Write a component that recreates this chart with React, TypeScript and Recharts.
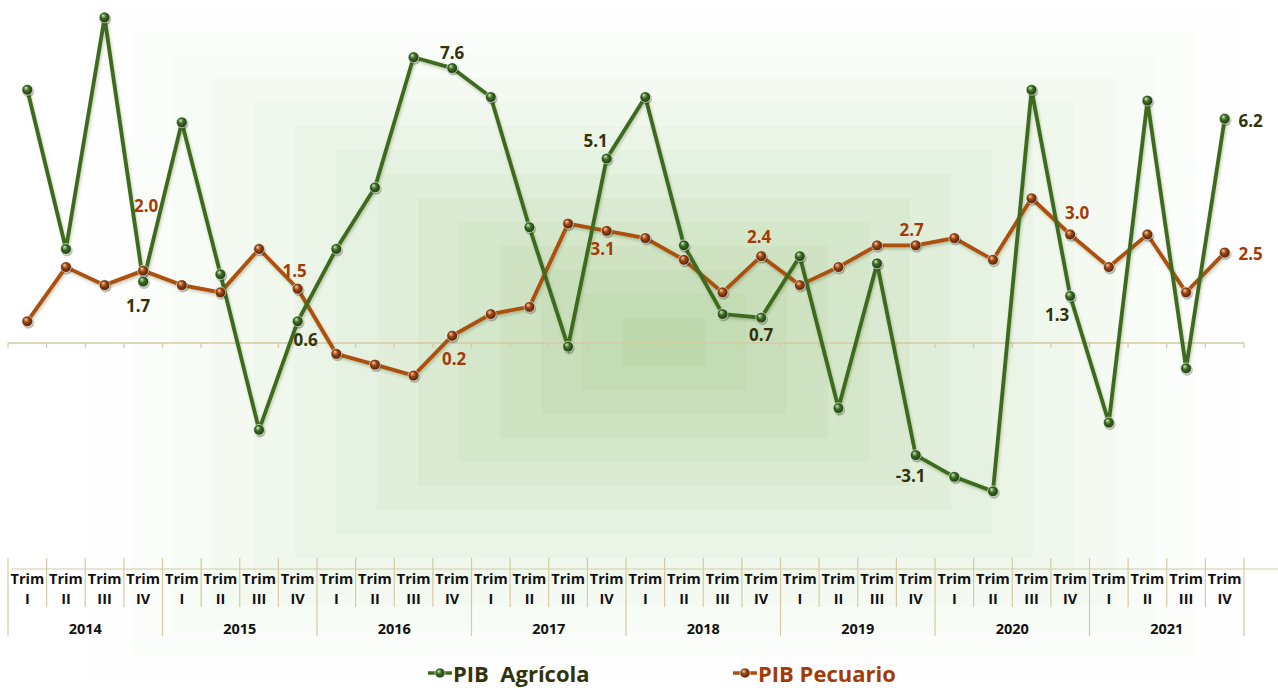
import React from 'react';
import { LineChart, Line, XAxis, YAxis, ReferenceLine, Legend, LabelList } from 'recharts';

const years = ['2014', '2015', '2016', '2017', '2018', '2019', '2020', '2021'];
const quarters = ['I', 'II', 'III', 'IV'];

const agricola = [
  7.0, 2.6, 9.0, 1.7,
  6.1, 1.9, -2.4, 0.6,
  2.6, 4.3, 7.9, 7.6,
  6.8, 3.2, -0.1, 5.1,
  6.8, 2.7, 0.8, 0.7,
  2.4, -1.8, 2.2, -3.1,
  -3.7, -4.1, 7.0, 1.3,
  -2.2, 6.7, -0.7, 6.2,
];

const pecuario = [
  0.6, 2.1, 1.6, 2.0,
  1.6, 1.4, 2.6, 1.5,
  -0.3, -0.6, -0.9, 0.2,
  0.8, 1.0, 3.3, 3.1,
  2.9, 2.3, 1.4, 2.4,
  1.6, 2.1, 2.7, 2.7,
  2.9, 2.3, 4.0, 3.0,
  2.1, 3.0, 1.4, 2.5,
];

// label offsets (dx, dy) from the point, only for labelled points
const agrLabelOffsets: Record<number, [number, number]> = {
  3: [-5, 24], 7: [8, 18], 11: [0, -16], 15: [-11, -18],
  19: [0, 17], 23: [-5, 20], 27: [-13, 19], 31: [26, 2],
};
const pecLabelOffsets: Record<number, [number, number]> = {
  3: [3, -65], 7: [-3, -18], 11: [2, 23], 15: [-4, 18],
  19: [-2, -20], 23: [-4, -16], 27: [7, -22], 31: [26, 1],
};

const data = agricola.map((a, i) => ({
  key: `${years[Math.floor(i / 4)]} ${quarters[i % 4]}`,
  agricola: a,
  pecuario: pecuario[i],
}));

const GREEN = '#3d6b1d';
const ORANGE = '#ad4f0e';
const AGR_TEXT = '#33330a';
const PEC_TEXT = '#a33b08';
const TAN = '#d6caa2';
const FONT = '"Open Sans", "DejaVu Sans", sans-serif';

const GRAD = {
  gG: ['#d4ecc0', '#3a6b22', '#16300b'],
  gO: ['#ffcf9c', '#9a4512', '#3e1604'],
} as Record<string, string[]>;

const makeDot = (grad: string) => (props: any) => {
  const { cx, cy, index } = props;
  if (cx == null || cy == null) return <g key={`d${index}`} />;
  return (
    <g key={`d${grad}${index}`}>
      <circle cx={cx + 1} cy={cy + 1.6} r={5.8} fill="rgba(40,45,20,0.3)" />
      <circle cx={cx} cy={cy} r={5.4} fill={`url(#${grad})`} stroke="rgba(255,255,255,0.7)" strokeWidth={0.9} />
    </g>
  );
};

const makeLabel = (offsets: Record<number, [number, number]>, color: string) => (props: any) => {
  const { x, y, value, index } = props;
  const off = offsets[index];
  if (!off || x == null) return null;
  return (
    <text
      key={`l${index}`}
      x={x + off[0]}
      y={y + off[1]}
      textAnchor="middle"
      dominantBaseline="central"
      fontFamily={FONT}
      fontWeight={700}
      fontSize={17}
      fill={color}
    >
      {Number(value).toFixed(1)}
    </text>
  );
};

const AxisTick = (props: any) => {
  const { x, y, index, width, visibleTicksCount } = props;
  const n = visibleTicksCount || data.length;
  const band = width / n;
  const left = x - band / 2;
  const qi = index % 4;
  const yi = Math.floor(index / 4);
  const isLast = index === n - 1;
  return (
    <g>
      <line x1={left} x2={left} y1={y - 2} y2={y + (qi === 0 ? 76 : 47)} stroke={TAN} strokeWidth={1.2} />
      {isLast && <line x1={left + band} x2={left + band} y1={y - 2} y2={y + 76} stroke={TAN} strokeWidth={1.2} />}
      <line
        x1={index === 0 ? left + 4 : left}
        x2={isLast ? left + band + 40 : left + band}
        y1={y + 9}
        y2={y + 9}
        stroke={TAN}
        strokeWidth={1.2}
      />
      <text x={x} y={y + 24} textAnchor="middle" fontFamily={FONT} fontWeight={700} fontSize={14.5} fill="#111">
        Trim
      </text>
      <text x={x} y={y + 44} textAnchor="middle" fontFamily={FONT} fontWeight={700} fontSize={14.5} fill="#111">
        {quarters[qi]}
      </text>
      {qi === 1 && (
        <text x={left + band} y={y + 74} textAnchor="middle" fontFamily={FONT} fontWeight={700} fontSize={14.5} fill="#111">
          {years[yi]}
        </text>
      )}
    </g>
  );
};

const ZeroLine = (props: any) => {
  const { x1, x2, y1 } = props;
  if (x1 == null) return null;
  const n = data.length;
  const step = (x2 - x1) / n;
  const ticks = [];
  for (let i = 0; i <= n; i++) {
    const tx = x1 + step * i;
    ticks.push(<line key={i} x1={tx} x2={tx} y1={y1} y2={y1 + 5} stroke={TAN} strokeWidth={1.2} />);
  }
  return (
    <g>
      <line x1={x1} x2={x2} y1={y1} y2={y1} stroke={TAN} strokeWidth={1.3} />
      {ticks}
    </g>
  );
};

const LegendIcon = ({ grad, color }: { grad: string; color: string }) => (
  <svg width={26} height={14} style={{ display: 'block' }}>
    <defs>
      <radialGradient id={`${grad}L`} cx="50%" cy="50%" fx="35%" fy="30%" r="60%">
        <stop offset="0%" stopColor={GRAD[grad][0]} />
        <stop offset="40%" stopColor={GRAD[grad][1]} />
        <stop offset="100%" stopColor={GRAD[grad][2]} />
      </radialGradient>
    </defs>
    <line x1={1} x2={25} y1={7} y2={7} stroke={color} strokeWidth={3.5} />
    <circle cx={13} cy={7} r={5} fill={`url(#${grad}L)`} stroke="rgba(255,255,255,0.8)" strokeWidth={0.8} />
  </svg>
);

const LegendContent = () => (
  <div style={{ position: 'relative', height: 50, width: 1278 }}>
    <div style={{ position: 'absolute', left: 427, top: 22, display: 'flex', alignItems: 'center' }}>
      <LegendIcon grad="gG" color={GREEN} />
      <span style={{ fontFamily: FONT, fontWeight: 700, fontSize: 22, color: AGR_TEXT, whiteSpace: 'pre', lineHeight: '26px' }}>
        PIB  Agrícola
      </span>
    </div>
    <div style={{ position: 'absolute', left: 732, top: 22, display: 'flex', alignItems: 'center' }}>
      <LegendIcon grad="gO" color={ORANGE} />
      <span style={{ fontFamily: FONT, fontWeight: 700, fontSize: 22, color: PEC_TEXT, whiteSpace: 'pre', lineHeight: '26px' }}>
        PIB Pecuario
      </span>
    </div>
  </div>
);

const bgLayers = Array.from({ length: 14 }, (_, k) => 14 - k);

export default function App() {
  return (
    <div style={{ position: 'fixed', left: 0, top: 0, width: 1278, height: 688, background: '#ffffff', overflow: 'hidden' }}>
      {bgLayers.map((n) => (
        <div
          key={n}
          style={{
            position: 'absolute',
            left: 664 - 41 * n,
            top: 342 - 24 * n,
            width: 82 * n,
            height: 48 * n,
            background: `rgba(125,180,85,${(0.010 + 0.0052 * (14 - n)).toFixed(4)})`,
          }}
        />
      ))}
      <div style={{ position: 'absolute', left: 0, top: 0 }}>
        <LineChart width={1278} height={688} data={data} margin={{ top: 3, right: 34, bottom: 0, left: 8 }}>
          <defs>
            {Object.keys(GRAD).map((id) => (
              <radialGradient key={id} id={id} cx="50%" cy="50%" fx="35%" fy="30%" r="60%">
                <stop offset="0%" stopColor={GRAD[id][0]} />
                <stop offset="40%" stopColor={GRAD[id][1]} />
                <stop offset="100%" stopColor={GRAD[id][2]} />
              </radialGradient>
            ))}
            <filter id="lineShadow" x="-5%" y="-5%" width="110%" height="110%">
              <feDropShadow dx="1" dy="2" stdDeviation="1.4" floodColor="#5a6a30" floodOpacity="0.35" />
            </filter>
          </defs>
          <XAxis
            dataKey="key"
            scale="band"
            interval={0}
            height={78}
            axisLine={false}
            tickLine={false}
            tickSize={0}
            tickMargin={0}
            tick={<AxisTick />}
          />
          <YAxis hide domain={[-6, 9.4]} type="number" allowDataOverflow />
          <ReferenceLine y={0} shape={<ZeroLine />} ifOverflow="extendDomain" />
          <Legend verticalAlign="bottom" height={50} wrapperStyle={{ left: 0, width: 1278, height: 50 }} content={<LegendContent />} />
          <Line
            type="linear"
            dataKey="pecuario"
            name="PIB Pecuario"
            stroke={ORANGE}
            strokeWidth={3.8}
            filter="url(#lineShadow)"
            dot={makeDot('gO')}
            activeDot={false}
            isAnimationActive={false}
          >
            <LabelList dataKey="pecuario" content={makeLabel(pecLabelOffsets, PEC_TEXT)} />
          </Line>
          <Line
            type="linear"
            dataKey="agricola"
            name="PIB Agrícola"
            stroke={GREEN}
            strokeWidth={3.8}
            filter="url(#lineShadow)"
            dot={makeDot('gG')}
            activeDot={false}
            isAnimationActive={false}
          >
            <LabelList dataKey="agricola" content={makeLabel(agrLabelOffsets, AGR_TEXT)} />
          </Line>
        </LineChart>
      </div>
    </div>
  );
}
